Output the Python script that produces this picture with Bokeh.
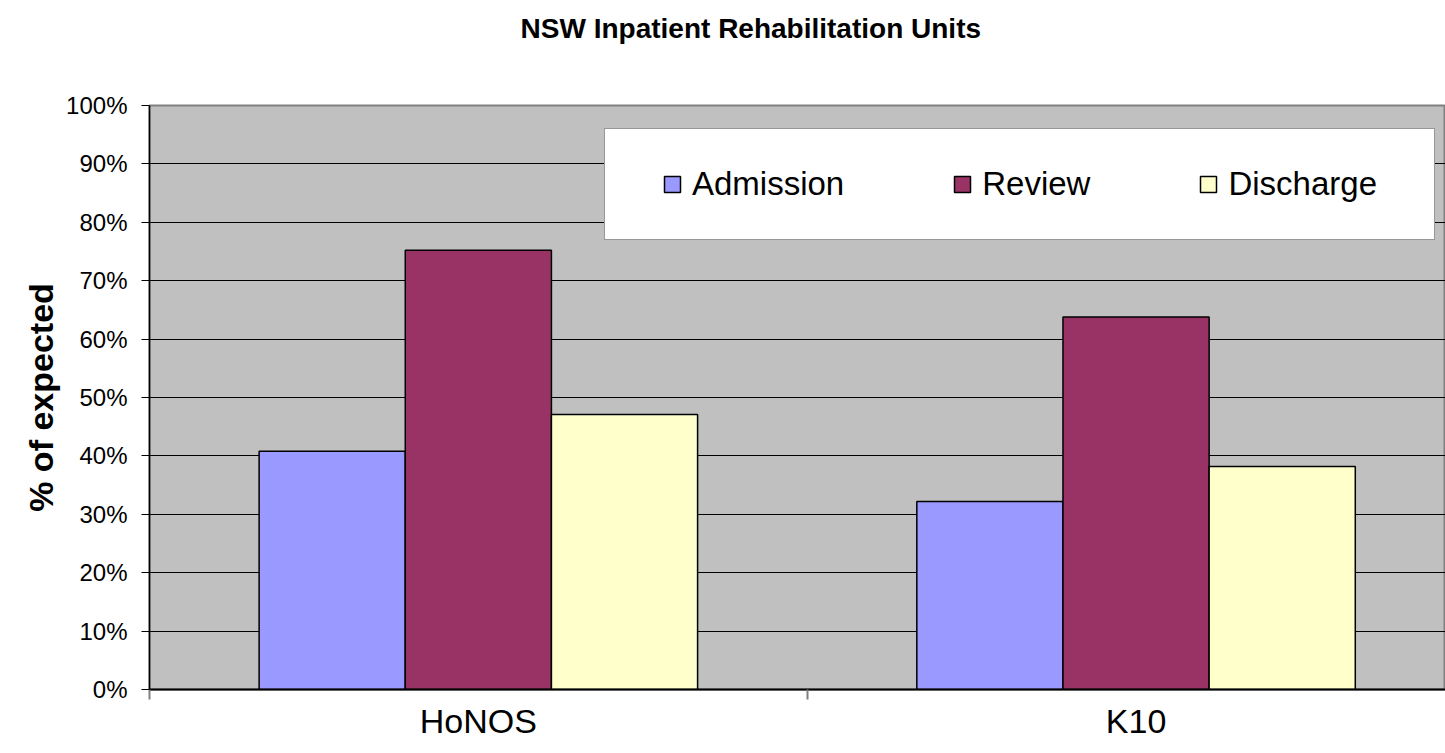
from bokeh.plotting import figure
from bokeh.models import (FixedTicker, NumeralTickFormatter, Legend, LegendItem, Range1d, LinearAxis)
from bokeh.embed import file_html
from bokeh.resources import INLINE

categories = ["HoNOS", "K10"]
series_names = ["Admission", "Review", "Discharge"]
admission = [0.408, 0.322]
review = [0.752, 0.638]
discharge = [0.471, 0.382]
series_colors = ["#9999FF", "#993366", "#FFFFCC"]
y_ticks = [0.0, 0.1, 0.2, 0.3, 0.4, 0.5, 0.6, 0.7, 0.8, 0.9, 1.0]
title_text = "NSW Inpatient Rehabilitation Units"
y_label = "% of expected"

FONT = "Liberation Sans"

p = figure(width=1445, height=753, output_backend="svg", toolbar_location=None,
           x_range=Range1d(0, 1.9705), y_range=Range1d(0, 1),
           min_border_left=149, min_border_right=0, min_border_top=105, min_border_bottom=64)

p.background_fill_color = "#C0C0C0"
p.border_fill_color = "white"
p.outline_line_color = "#808080"
p.outline_line_width = 2

centers = [i + 0.5 for i in range(len(categories))]
bar_w = 1 / 4.5
renderers = []
for j, vals in enumerate([admission, review, discharge]):
    xs = [c + (j - 1) * bar_w for c in centers]
    r = p.vbar(x=xs, top=vals, bottom=0, width=bar_w,
               fill_color=series_colors[j], line_color="black", line_width=1.5)
    renderers.append(r)

# grid
p.xgrid.visible = False
p.ygrid.ticker = FixedTicker(ticks=y_ticks)
p.ygrid.grid_line_color = "black"
p.ygrid.grid_line_width = 1

# x axis
xa = p.xaxis[0]
xa.ticker = FixedTicker(ticks=centers, minor_ticks=list(range(len(categories) + 1)))
xa.major_label_overrides = {c: name for c, name in zip(centers, categories)}
xa.major_tick_line_color = None
xa.major_tick_out = 0
xa.major_tick_in = 0
xa.minor_tick_in = 0
xa.minor_tick_out = 10
xa.minor_tick_line_color = "#808080"
xa.minor_tick_line_width = 2
xa.axis_line_color = "black"
xa.axis_line_width = 2
xa.major_label_text_font = FONT
xa.major_label_text_font_size = "34px"
xa.major_label_text_color = "black"
xa.major_label_standoff = 2

# y axis
ya = p.yaxis[0]
ya.ticker = FixedTicker(ticks=y_ticks)
ya.formatter = NumeralTickFormatter(format="0%")
ya.minor_tick_line_color = None
ya.major_tick_in = 0
ya.major_tick_out = 8
ya.major_tick_line_color = "black"
ya.axis_line_color = "black"
ya.axis_line_width = 1.5
ya.major_label_text_font = FONT
ya.major_label_text_font_size = "24px"
ya.major_label_text_color = "black"
ya.major_label_standoff = 14
ya.axis_label = y_label
ya.axis_label_text_font = FONT
ya.axis_label_text_font_style = "bold"
ya.axis_label_text_font_size = "34px"
ya.axis_label_text_color = "black"
ya.axis_label_standoff = 3

# title: drawn as the label of an invisible axis above the frame
# (trailing no-break spaces shift the centred text to the chart's own centre)
ta = LinearAxis(ticker=FixedTicker(ticks=[]))
ta.axis_line_color = None
ta.major_tick_line_color = None
ta.minor_tick_line_color = None
ta.major_tick_out = 0
ta.major_tick_in = 0
ta.minor_tick_out = 0
ta.major_label_text_font_size = "0px"
ta.axis_label = title_text + "\u00a0" * 12
ta.axis_label_text_font = FONT
ta.axis_label_text_font_style = "bold"
ta.axis_label_text_font_size = "28px"
ta.axis_label_text_color = "black"
ta.axis_label_standoff = 62
p.add_layout(ta, "above")

# legend
legend = Legend(items=[LegendItem(label=n, renderers=[r]) for n, r in zip(series_names, renderers)],
                orientation="horizontal", location=(455, 449))
legend.label_text_font = FONT
legend.label_text_font_size = "33px"
legend.label_text_color = "black"
legend.glyph_width = 20
legend.glyph_height = 20
legend.label_standoff = 10
legend.spacing = 108
legend.border_line_color = "#303030"
legend.border_line_width = 1.5
legend.background_fill_color = "white"
legend.background_fill_alpha = 1.0
try:
    legend.padding = dict(left=57, right=57, top=36, bottom=36)
except Exception:
    legend.padding = 36
p.add_layout(legend)

open("out.html", "w").write(file_html(p, INLINE))
